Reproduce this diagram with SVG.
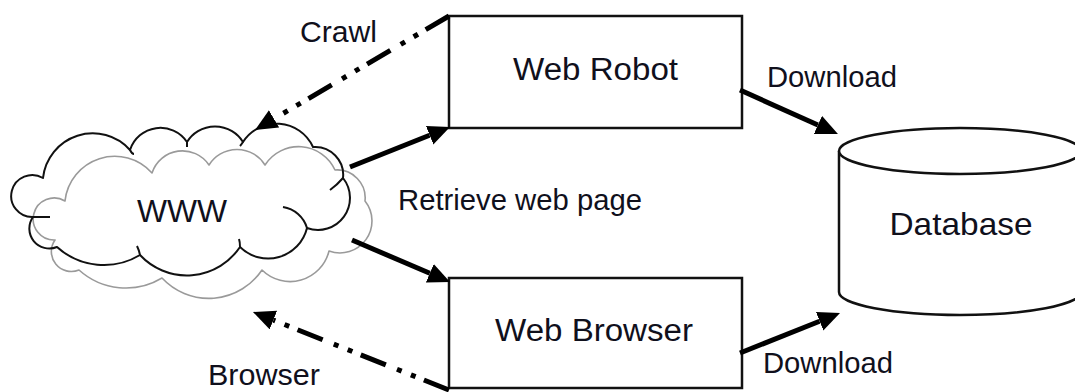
<svg xmlns="http://www.w3.org/2000/svg" width="1075" height="392" viewBox="0 0 1075 392">
<style>
  .box { fill: #fff; stroke: #111; stroke-width: 2.5; }
  .lbl { font-family: "Liberation Sans", Arial, sans-serif; fill: #10101c; }
  .conn { stroke: #000; stroke-width: 5; fill: none; }
  .dd { stroke-dasharray: 27 9 5 10 5 12; }
  .cloudK { fill: none; stroke: #111; stroke-width: 2; stroke-linejoin: round; }
  .cloudG { fill: none; stroke: #9a9a9a; stroke-width: 1.6; stroke-linejoin: round; }
</style>
<defs>
  <marker id="ah" markerUnits="userSpaceOnUse" markerWidth="24" markerHeight="22" refX="0" refY="10" orient="auto">
    <path d="M0,0 L22,10 L0,20 z" fill="#000"/>
  </marker>
  <path id="cloudShape" d="M43,178 A50,50 0 0 1 130,150 A32,32 0 0 1 187,142 A33,33 0 0 1 243,142 A40,40 0 0 1 313,147 A28,28 0 0 1 343,178 A32,32 0 0 1 307,228 A40,40 0 0 1 240,247 A64,64 0 0 1 140,255 A70,70 0 0 1 57,247 A20,20 0 0 1 33,217 A21,21 0 1 1 43,178 Z"/>
</defs>
<rect width="1075" height="392" fill="#fff"/>

<g id="www">
  <use href="#cloudShape" class="cloudG" transform="translate(22,23)"/>
  <use href="#cloudShape" class="cloudK"/>
  <path class="cloudK" d="M283,207 A30,30 0 0 1 307,228 M330,190 Q337,185 343,178 M130,150 Q132,154 134,154 M187,142 Q187,145 187,147 M243,142 Q241,145 240,146 M140,255 Q139,250 137,246 M240,247 Q240,242 239,239 M33,217 Q40,217 50,217"/>
  <text class="lbl" x="182" y="222" font-size="31" text-anchor="middle" textLength="90" lengthAdjust="spacingAndGlyphs">WWW</text>
</g>

<g id="web-robot">
  <rect class="box" x="449" y="16" width="293" height="112"/>
  <text class="lbl" x="595.5" y="80" font-size="31" text-anchor="middle" textLength="165" lengthAdjust="spacingAndGlyphs">Web Robot</text>
</g>

<g id="web-browser">
  <rect class="box" x="449" y="278" width="293" height="110"/>
  <text class="lbl" x="594" y="341" font-size="31" text-anchor="middle" textLength="198" lengthAdjust="spacingAndGlyphs">Web Browser</text>
</g>

<g id="database">
  <path class="box" d="M839,151 L839,292 A121,23 0 0 0 1081,292 L1081,151"/>
  <ellipse class="box" cx="960" cy="151" rx="121" ry="23"/>
  <text class="lbl" x="961" y="235" font-size="32" text-anchor="middle" textLength="143" lengthAdjust="spacingAndGlyphs">Database</text>
</g>

<g id="connectors">
  <line class="conn dd" x1="449" y1="16" x2="274" y2="118.8" marker-end="url(#ah)"/>
  <line class="conn dd" x1="449" y1="390" x2="273.4" y2="320.1" marker-end="url(#ah)"/>
  <line class="conn" x1="350" y1="167" x2="429.6" y2="135.2" marker-end="url(#ah)"/>
  <line class="conn" x1="352" y1="240" x2="429.8" y2="273.3" marker-end="url(#ah)"/>
  <line class="conn" x1="740" y1="90" x2="817.9" y2="125" marker-end="url(#ah)"/>
  <line class="conn" x1="740" y1="353" x2="819.6" y2="321.2" marker-end="url(#ah)"/>
</g>

<g id="labels">
  <text class="lbl" x="300" y="42" font-size="29" textLength="77" lengthAdjust="spacingAndGlyphs">Crawl</text>
  <text class="lbl" x="398" y="210" font-size="29" textLength="244" lengthAdjust="spacingAndGlyphs">Retrieve web page</text>
  <text class="lbl" x="767" y="87" font-size="29" textLength="130" lengthAdjust="spacingAndGlyphs">Download</text>
  <text class="lbl" x="763" y="373" font-size="29" textLength="130" lengthAdjust="spacingAndGlyphs">Download</text>
  <text class="lbl" x="208" y="385" font-size="29" textLength="112" lengthAdjust="spacingAndGlyphs">Browser</text>
</g>
</svg>
